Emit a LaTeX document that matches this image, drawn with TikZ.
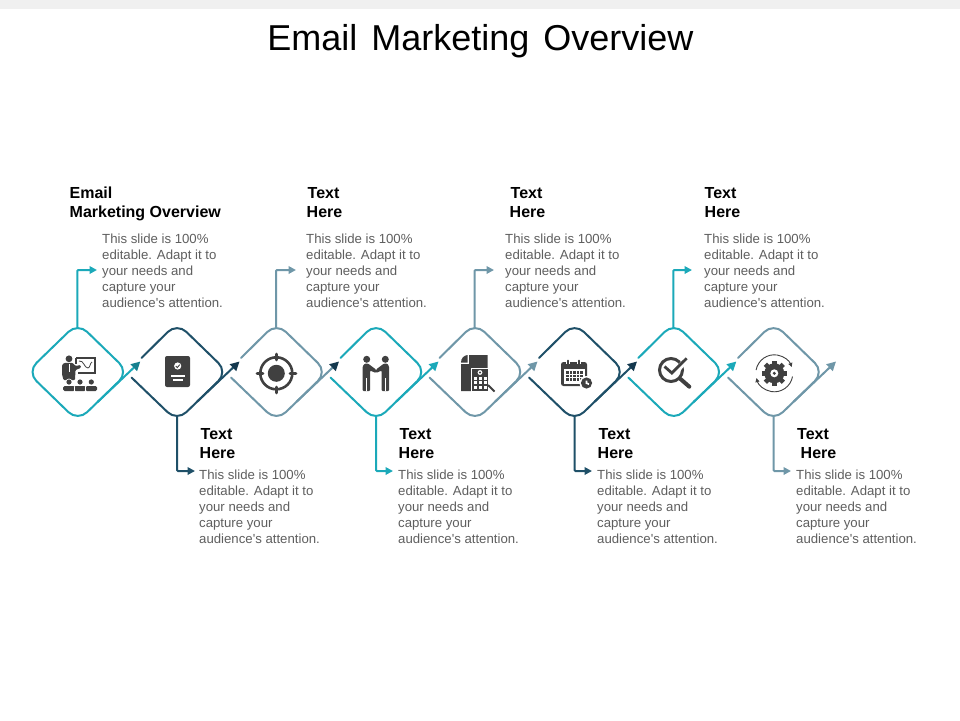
\documentclass[tikz,border=0pt]{standalone}
\usepackage{fontspec}
\newfontfamily\arialish{Liberation Sans}
\usetikzlibrary{arrows.meta,calc}
\definecolor{teal1}{HTML}{1BA9B9}
\definecolor{tealhead}{HTML}{17808F}
\definecolor{navy1}{HTML}{1F5068}
\definecolor{slate1}{HTML}{6F97A8}
\definecolor{navyhead}{HTML}{14384E}
\definecolor{ink}{HTML}{404040}
\definecolor{bodygrey}{HTML}{5F5F5F}
\tikzset{
  hub/.style={minimum width=101pt,minimum height=98pt,inner sep=0pt,draw=none},
  rim/.style={line width=2pt,rounded corners=13pt,line cap=round},
  elbow/.style={line width=2pt,-{Triangle[length=7.5pt,width=7.5pt]},rounded corners=1pt},
  diag/.style={line width=2pt},
  titletext/.style={inner sep=0pt,anchor=base,font=\arialish\fontsize{36}{40}\selectfont,text=black},
  headtext/.style={inner sep=0pt,anchor=north west,align=left,font=\arialish\bfseries\fontsize{16}{19}\selectfont,text=black},
  bodytext/.style={inner sep=0pt,anchor=north west,align=left,font=\arialish\fontsize{13.2}{16}\selectfont,text=bodygrey},
}
\newcommand{\blurb}{This slide is 100\%\\editable. Adapt it to\\your needs and\\capture your\\audience's attention.}
\begin{document}
\begin{tikzpicture}[x=1pt,y=-1pt]
\useasboundingbox (0,0) rectangle (960,720);
\fill[white] (0,0) rectangle (960,720);
\fill[black!6] (0,0) rectangle (960,9);
\node[titletext] (title) at (480.5,50) {Email\hspace{4pt} Marketing\hspace{4pt} Overview};

% hubs
\foreach \n/\x in {1/77.8,2/177,3/276.5,4/376,5/475,6/574.5,7/673.8,8/773.5}
  \node[hub] (d\n) at (\x,372) {};

% diamond 1 is closed, the others leave a gap on the left
\draw[rim,teal1] (d1.north) -- (d1.east) -- (d1.south) -- (d1.west) -- cycle;
\foreach \n/\col in {2/navy1,3/slate1,4/teal1,5/slate1,6/navy1,7/teal1,8/slate1}{
  \draw[rim,\col] ($(d\n.center)+(-35.5,-14)$) -- (d\n.north) -- (d\n.east) -- (d\n.south) -- ($(d\n.center)+(-45.5,5.5)$);
}
% arrows along the lower right edge
\foreach \n/\col/\hd in {1/teal1/tealhead,2/navy1/navyhead,3/slate1/navyhead,4/teal1/teal1,5/slate1/slate1,6/navy1/navyhead,7/teal1/teal1,8/slate1/slate1}{
  \coordinate (a\n) at ($(d\n.center)+(62.5,-10.5)$);
  \draw[diag,\col,-{Triangle[length=9pt,width=9pt,color=\hd]}] ($(d\n.south)+(20,-19.4)$) -- (a\n);
}

% text blocks, upper row
\node[headtext] (h1) at (69.5,187) {Email\\Marketing Overview};
\node[bodytext] (b1) at (102,233.4) {\blurb};
\node[headtext] (h3) at (306.5,187) {\hspace{1pt}Text\\Here};
\node[bodytext] (b3) at (306,233.4) {\blurb};
\node[headtext] (h5) at (509.5,187) {\hspace{1pt}Text\\Here};
\node[bodytext] (b5) at (505,233.4) {\blurb};
\node[headtext] (h7) at (704.5,187) {Text\\Here};
\node[bodytext] (b7) at (704,233.4) {\blurb};
% text blocks, lower row
\node[headtext] (h2) at (199.5,428.5) {\hspace{1pt}Text\\Here};
\node[bodytext] (b2) at (199,469.4) {\blurb};
\node[headtext] (h4) at (398.5,428.5) {\hspace{1pt}Text\\Here};
\node[bodytext] (b4) at (398,469.4) {\blurb};
\node[headtext] (h6) at (597.5,428.5) {\hspace{1pt}Text\\Here};
\node[bodytext] (b6) at (597,469.4) {\blurb};
\node[headtext] (h8) at (797,428.5) {Text\\\hspace{3.5pt}Here};
\node[bodytext] (b8) at (796,469.4) {\blurb};

% elbow connectors
\coordinate (e1) at (97,270);
\coordinate (e3) at (296,270);
\coordinate (e5) at (494,270);
\coordinate (e7) at (692,270);
\coordinate (e2) at (195,471);
\coordinate (e4) at (393,471);
\coordinate (e6) at (592,471);
\coordinate (e8) at (791,471);
\path (d1.north) ++(-0.5,5) coordinate (s1);
\path (d3.north) ++(-0.5,5) coordinate (s3);
\path (d5.north) ++(-0.5,5) coordinate (s5);
\path (d7.north) ++(-0.5,5) coordinate (s7);
\path (d2.south) ++(0,-5) coordinate (s2);
\path (d4.south) ++(0,-5) coordinate (s4);
\path (d6.south) ++(0,-5) coordinate (s6);
\path (d8.south) ++(0,-5) coordinate (s8);
\draw[elbow,teal1] (s1) |- (e1);
\draw[elbow,slate1] (s3) |- (e3);
\draw[elbow,slate1] (s5) |- (e5);
\draw[elbow,teal1] (s7) |- (e7);
\draw[elbow,navy1] (s2) |- (e2);
\draw[elbow,teal1] (s4) |- (e4);
\draw[elbow,navy1] (s6) |- (e6);
\draw[elbow,slate1] (s8) |- (e8);

% icon 1: presenter
\begin{scope}[ink]
\fill (69,358.8) circle[radius=3.4pt];
\fill[rounded corners=1pt] (62,365) -- (64.5,362.8) -- (72.5,362.8) -- (75.5,366) -- (80.5,365) -- (81,367.8) -- (75.5,370) -- (75,380) -- (63.5,380) -- (62,374) -- cycle;
\draw[line width=1.1pt] (76,358) -- (95,358) -- (95,373) -- (78,373);
\draw[line width=1.1pt] (76,358) -- (76,364);
\draw[line width=.8pt] (79,361) .. controls (84,360) and (84,368) .. (88,368) .. controls (90,368) and (90,363) .. (92,362);
\foreach \x in {69,80,91.3}{
  \fill[white] (\x,382) circle[radius=3.4pt];
  \fill (\x,382) circle[radius=2.6pt];
  \fill[rounded corners=1.5pt] (\x-5.8,391) -- (\x-5.8,386) -- (\x+5.8,386) -- (\x+5.8,391) -- cycle;
}
\draw[white,line width=.4pt] (74.6,386.5) -- (74.6,391) (85.6,386.5) -- (85.6,391);
\draw[white,line width=.5pt] (69,364) -- (69,372);
\end{scope}

% icon 2: badge card
\fill[ink,rounded corners=2pt] (165,356) rectangle (190,387);
\fill[white] (177.7,366) circle[radius=3.6pt];
\draw[ink,line width=.9pt] (175.8,366) -- (177.3,367.6) -- (179.8,364.6);
\draw[white,line width=1.3pt] (171,376) -- (185,376);
\draw[white,line width=1.3pt] (173,380) -- (183,380);

% icon 3: target
\fill[ink] (276.3,373.3) circle[radius=8.5pt];
\draw[ink,line width=2.6pt] (276.3,373.3) circle[radius=16pt];
\draw[ink,line width=2.8pt,line cap=round] (276.3,354) -- (276.3,360) (276.3,387) -- (276.3,393) (257,373.3) -- (263,373.3) (290,373.3) -- (296,373.3);

% icon 4: handshake
\begin{scope}[ink]
\fill (366.7,359.3) circle[radius=3.5pt];
\fill (385.3,359.3) circle[radius=3.5pt];
\fill[rounded corners=1pt] (362.7,366) -- (365,363.5) -- (368,363.5) -- (376,369.5) -- (376,373) -- (370,370.5) -- (370,391) -- (362.7,391) -- cycle;
\fill[rounded corners=1pt] (389,366) -- (387,363.5) -- (384,363.5) -- (376,369.5) -- (376,373) -- (381.7,370.5) -- (381.7,391) -- (389,391) -- cycle;
\draw[white,line width=.7pt] (366.4,378) -- (366.4,391) (385.4,378) -- (385.4,391);
\end{scope}

% icon 5: document and keypad
\begin{scope}[ink]
\fill (461,362.5) .. controls (461,358) and (464,355.5) .. (467.5,355) -- (467.5,362.5) -- cycle;
\fill (469,355) -- (487.7,355) -- (487.7,370) -- (472,370) -- (472,391) -- (461,391) -- (461,364) -- (469,364) -- cycle;
\fill[white] (470.5,367.5) rectangle (489.5,392);
\fill (472,368.5) rectangle (488,391);
\foreach \yy in {376.5,381,385.5}{
  \foreach \xx in {473.5,478.5,483.5}{
    \fill[white] (\xx,\yy) rectangle ++(3.6,3.4);
  }
}
\draw[line width=1.8pt] (488,385) -- (494.5,391.5);
\fill[white] (480,372.5) circle[radius=2.4pt];
\fill (480,372.5) circle[radius=1.1pt];
\end{scope}

% icon 6: calendar
\begin{scope}[ink]
\fill[rounded corners=2.5pt] (561,362) rectangle (587,386);
\fill[white] (563.5,369) rectangle (584.5,383.5);
\draw[white,line width=3.4pt] (568,359) -- (568,364) (579,359) -- (579,364);
\draw[line width=2pt,line cap=round] (568,360.5) -- (568,364) (579,360.5) -- (579,364);
\foreach \yy in {371,374.6,378.2}{
  \foreach \xx in {566,569.6,573.2,576.8,580.4}{
    \fill (\xx,\yy) rectangle ++(2.6,2.6);
  }
}
\fill[white] (586.5,383) circle[radius=7pt];
\fill (586.5,383) circle[radius=5.6pt];
\fill[white] (585.6,380.5) -- (585.6,383.7) -- (588.7,385) -- (589.2,383.3) -- (587.3,382.6) -- (587.3,380.5) -- cycle;
\end{scope}

% icon 7: magnifier with check
\draw[ink,line width=3pt] (671,370) circle[radius=11.5pt];
\draw[white,line width=5.5pt] (665,367.3) -- (675,373.3) -- (686.7,358.3);
\draw[ink,line width=2.8pt] (664.5,366.5) -- (671.8,373) -- (686.7,358.3);
\draw[ink,line width=4pt,line cap=round] (680.5,379) -- (689.3,386.7);

% icon 8: gear with cycle arrows
\begin{scope}[shift={(774.3,373.3)},ink]
\fill (0,0) circle[radius=10pt];
\foreach \a in {0,45,...,315}{\draw[line width=4.6pt] (\a:8pt) -- (\a:12.7pt);}
\fill[white] (0,0) circle[radius=4pt];
\fill (0,0) circle[radius=1.7pt];
\draw[line width=.9pt,-{Triangle[length=4pt,width=4pt]}] (170:18.5pt) arc[start angle=170,end angle=20,radius=18.5pt];
\draw[line width=.9pt,-{Triangle[length=4pt,width=4pt]}] (-10:18.5pt) arc[start angle=-10,end angle=-165,radius=18.5pt];
\end{scope}
\end{tikzpicture}
\end{document}
